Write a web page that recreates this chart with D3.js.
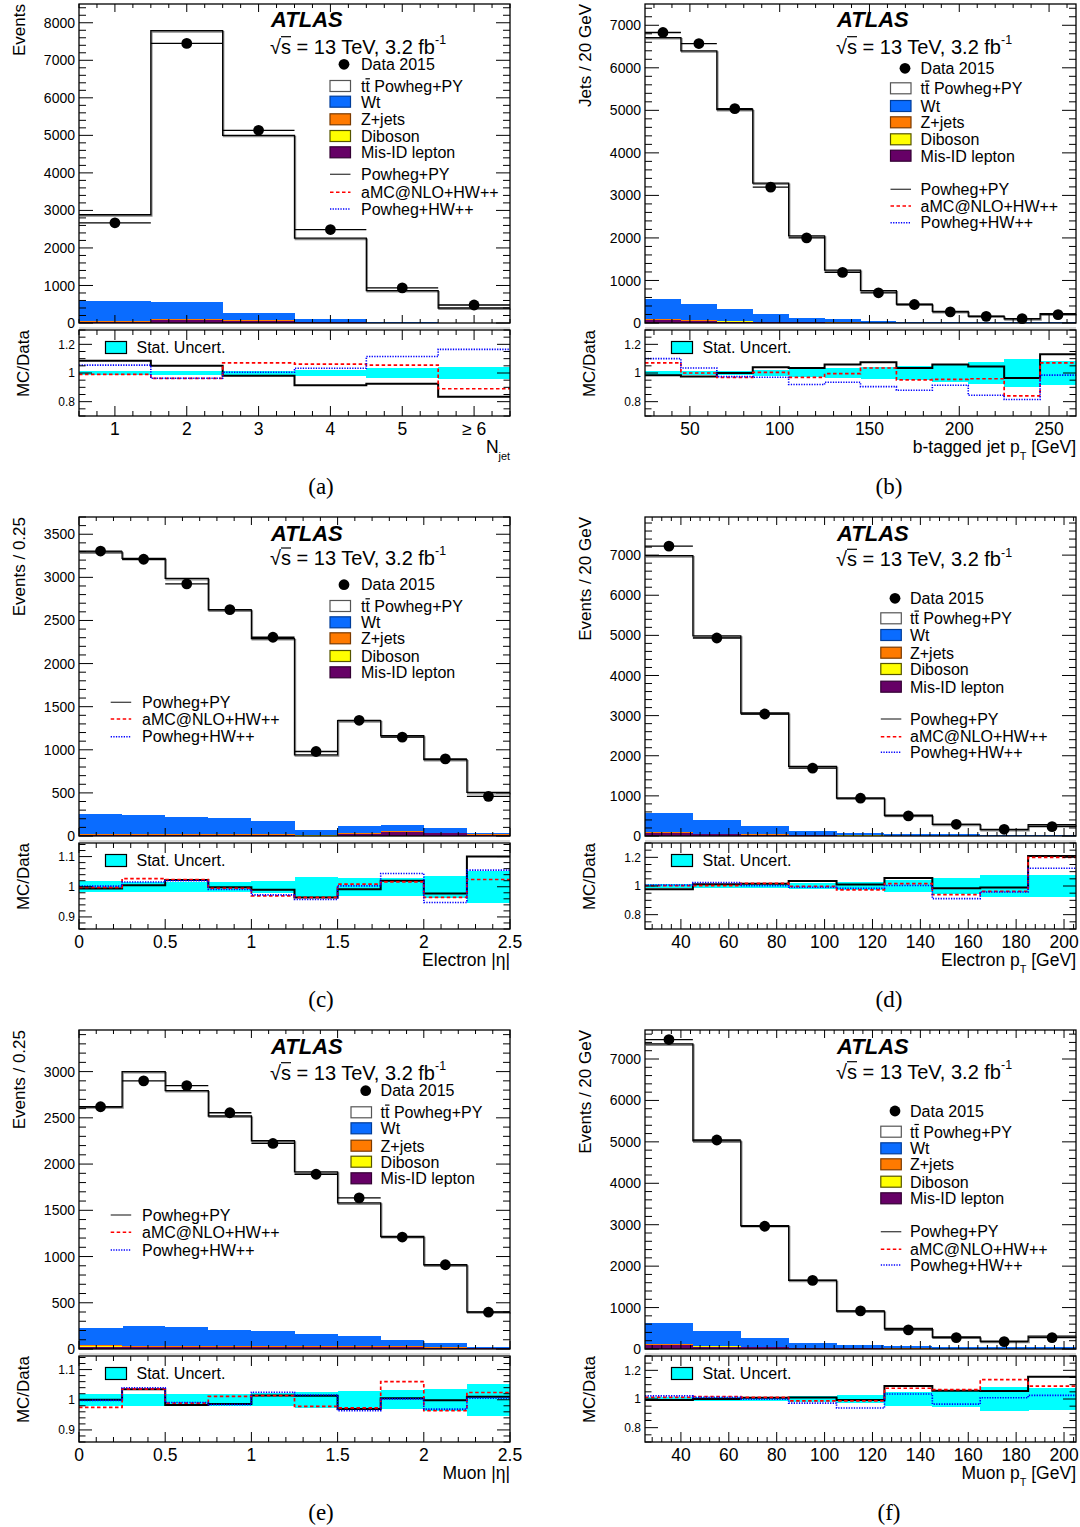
<!DOCTYPE html>
<html>
<head>
<meta charset="utf-8">
<script src="https://cdn.jsdelivr.net/npm/d3@7"></script>
<style>
  body { margin: 0; background: #fff; }
  svg { display: block; }
  text { font-family: "Liberation Sans", Arial, Helvetica, sans-serif; fill: #000; }
</style>
</head>
<body>
<div id="chart"></div>
<script>
// ---- data ----
// (a) jet multiplicity
const njetLabels = ["1", "2", "3", "4", "5", "\u2265 6"];
const njetEdges = [0.5, 1.5, 2.5, 3.5, 4.5, 5.5, 6.5];
const njetData = [2670, 7450, 5135, 2490, 935, 480];
const njetTotal = [2885, 7790, 5000, 2260, 865, 400];
const njetWt = [540, 470, 195, 80, 27, 6];
const njetZjets = [15, 10, 8, 4, 2, 1];
const njetDiboson = [5, 6, 4, 2, 1, 0.5];
const njetMisid = [20, 85, 60, 22, 6, 2];
const njetRatioPowhegPy = [1.085, 1.05, 0.98, 0.915, 0.925, 0.835];
const njetRatioAmc = [0.99, 0.963, 1.07, 1.062, 1.055, 0.89];
const njetRatioPowhegHw = [1.055, 0.963, 1.005, 1.033, 1.115, 1.165];
const njetStat = [0.016, 0.012, 0.014, 0.018, 0.033, 0.042];

// (b) b-tagged jet pT
const bjetEdges = [25, 45, 65, 85, 105, 125, 145, 165, 185, 205, 225, 245, 265];
const bjetData = [6830, 6570, 5040, 3195, 2000, 1190, 710, 435, 260, 157, 102, 197];
const bjetTotal = [6710, 6400, 5020, 3290, 2050, 1242, 760, 445, 273, 162, 98, 222];
const bjetWt = [465, 395, 290, 190, 105, 72, 38, 24, 19, 12, 11, 11];
const bjetZjets = [15, 10, 8, 6, 4, 3, 2, 2, 1, 1, 1, 1];
const bjetDiboson = [5, 4, 3, 2, 2, 1, 1, 1, 1, 1, 0.5, 0.5];
const bjetMisid = [75, 45, 35, 22, 16, 10, 6, 4, 3, 2, 2, 2];
const bjetRatioPowhegPy = [0.985, 0.975, 1.0, 1.04, 1.035, 1.06, 1.075, 1.035, 1.06, 1.045, 0.965, 1.13];
const bjetRatioAmc = [1.07, 1.0, 0.97, 1.005, 0.97, 0.995, 1.035, 0.952, 0.955, 0.96, 0.84, 1.07];
const bjetRatioPowhegHw = [1.1, 1.035, 0.975, 0.97, 0.92, 0.935, 0.905, 0.88, 0.915, 0.845, 0.815, 0.985];
const bjetStat = [0.012, 0.012, 0.015, 0.02, 0.03, 0.035, 0.042, 0.05, 0.06, 0.075, 0.095, 0.082];

// (c) electron |eta|
const etaEdges = [0, 0.25, 0.5, 0.75, 1, 1.25, 1.5, 1.75, 2, 2.25, 2.5];
const elEtaData = [3305, 3210, 2925, 2625, 2305, 980, 1342, 1147, 895, 460];
const elEtaTotal = [3295, 3220, 2988, 2622, 2290, 942, 1338, 1163, 887, 506];
const elEtaWt = [229, 221, 202, 182, 149, 52, 81, 70, 49, 18];
const elEtaZjets = [12, 12, 12, 12, 12, 8, 8, 10, 8, 5];
const elEtaDiboson = [4, 4, 4, 4, 4, 2, 3, 3, 2, 1];
const elEtaMisid = [8, 8, 8, 8, 10, 4, 25, 45, 30, 15];
const elEtaRatioPowhegPy = [0.994, 1.005, 1.022, 0.998, 0.99, 0.964, 0.992, 1.02, 0.978, 1.1];
const elEtaRatioAmc = [0.998, 1.027, 1.024, 0.995, 0.97, 0.965, 1.009, 1.016, 0.965, 1.024];
const elEtaRatioPowhegHw = [1.002, 1.016, 1.02, 0.991, 0.973, 0.958, 1.003, 1.044, 0.948, 1.055];
const elEtaStat = [0.018, 0.017, 0.017, 0.017, 0.02, 0.033, 0.03, 0.03, 0.036, 0.053];

// (d) electron pT
const lepPtEdges = [25, 45, 65, 85, 105, 125, 145, 165, 185, 205];
const elPtData = [7225, 4935, 3040, 1690, 942, 500, 292, 167, 233];
const elPtTotal = [6985, 4985, 3065, 1735, 945, 517, 290, 160, 280];
const elPtWt = [477, 333, 208, 100, 51, 47, 33, 19, 19];
const elPtZjets = [15, 10, 7, 5, 3, 2, 2, 1, 1];
const elPtDiboson = [5, 4, 3, 2, 1, 1, 1, 1, 1];
const elPtMisid = [70, 45, 32, 18, 12, 8, 6, 4, 4];
const elPtRatioPowhegPy = [0.978, 1.013, 1.015, 1.035, 1.01, 1.055, 0.985, 0.99, 1.21];
const elPtRatioAmc = [1.002, 1.002, 1.018, 0.997, 0.973, 1.016, 0.94, 0.962, 1.2];
const elPtRatioPowhegHw = [1.007, 1.024, 1.002, 0.991, 0.984, 1.004, 0.912, 0.958, 1.124];
const elPtStat = [0.015, 0.013, 0.015, 0.02, 0.028, 0.045, 0.058, 0.075, 0.075];

// (e) muon |eta|
const muEtaData = [2620, 2900, 2848, 2555, 2223, 1890, 1634, 1211, 911, 398];
const muEtaTotal = [2620, 3000, 2795, 2520, 2252, 1916, 1580, 1218, 909, 402];
const muEtaWt = [190, 216, 198, 176, 161, 134, 111, 68, 45, 16];
const muEtaZjets = [10, 10, 10, 9, 8, 7, 7, 6, 4, 2];
const muEtaDiboson = [3, 3, 3, 3, 3, 2, 2, 2, 1, 1];
const muEtaMisid = [25, 24, 24, 22, 20, 20, 25, 25, 15, 6];
const muEtaRatioPowhegPy = [1.0, 1.035, 0.983, 0.986, 1.014, 1.013, 0.969, 1.005, 0.998, 1.01];
const muEtaRatioAmc = [0.975, 1.036, 0.989, 1.011, 1.014, 0.978, 0.973, 1.06, 0.964, 1.024];
const muEtaRatioPowhegHw = [0.998, 1.04, 0.991, 0.984, 1.025, 1.016, 0.964, 1.003, 0.969, 1.005];
const muEtaStat = [0.02, 0.02, 0.019, 0.02, 0.022, 0.026, 0.028, 0.032, 0.036, 0.053];

// (f) muon pT
const muPtData = [7470, 5045, 2963, 1655, 920, 460, 275, 178, 275];
const muPtTotal = [7365, 5022, 2980, 1660, 915, 495, 290, 188, 312];
const muPtWt = [517, 361, 209, 120, 77, 60, 46, 33, 48];
const muPtZjets = [15, 10, 7, 5, 3, 2, 2, 1, 2];
const muPtDiboson = [6, 5, 4, 3, 2, 1, 1, 1, 1];
const muPtMisid = [100, 60, 38, 25, 15, 10, 8, 5, 6];
const muPtRatioPowhegPy = [0.993, 1.0, 1.009, 1.011, 0.993, 1.09, 1.058, 1.055, 1.155];
const muPtRatioAmc = [1.011, 1.016, 1.011, 0.987, 0.987, 1.075, 1.065, 1.135, 1.09];
const muPtRatioPowhegHw = [1.022, 1.011, 0.998, 0.971, 0.937, 1.035, 0.964, 1.009, 1.025];
const muPtStat = [0.012, 0.012, 0.015, 0.02, 0.025, 0.047, 0.058, 0.085, 0.077];

const stackLabels = ["t\u0074 Powheg+PY", "Wt", "Z+jets", "Diboson", "Mis-ID lepton"];
const lineLabels = ["Powheg+PY", "aMC@NLO+HW++", "Powheg+HW++"];

// ---- layout ----
const W = 1080, H = 1527;
const colLeft = [79, 645];
const rowTop = [4, 517, 1030];
const frameW = 431;
const mainH = 319;
const ratioOff = 326;
const ratioH = 86;

const colors = {
  tt: "#ffffff", wt: "#0a6cff", zjets: "#ff7a00", diboson: "#ffff00",
  misid: "#660066", stat: "#00ffff", amc: "#ff0000", hw: "#0000ff"
};

const svg = d3.select("#chart").append("svg")
  .attr("width", W).attr("height", H)
  .attr("viewBox", `0 0 ${W} ${H}`);

const ptTitle = (name) => [{ t: name + " p" }, { t: "T", sub: true }, { t: " [GeV]" }];

const panels = [
  {
    tag: "(a)", col: 0, row: 0, edges: njetEdges, xDomain: [0.5, 6.5],
    xMajor: [1, 2, 3, 4, 5, 6], xLabels: njetLabels, xMinor: 0.25,
    yMax: 8500, yMajor: 1000, yMinor: 200, yTitle: "Events",
    rDomain: [0.7, 1.3], rLabels: [0.8, 1, 1.2], rMinor: 0.05,
    xTitle: [{ t: "N" }, { t: "jet", sub: true }],
    data: njetData, total: njetTotal, wt: njetWt, zjets: njetZjets, diboson: njetDiboson, misid: njetMisid,
    rPy: njetRatioPowhegPy, rAmc: njetRatioAmc, rHw: njetRatioPowhegHw, stat: njetStat,
    leg: { box: 251, text: 282, marker: 265, atlas: 15.3, sqrt: 42.7, dataY: 60.3,
           stack: [82, 97.7, 115.3, 132, 148.3], lx: 251, ltext: 282, lines: [170.3, 188.3, 205] }
  },
  {
    tag: "(b)", col: 1, row: 0, edges: bjetEdges, xDomain: [25, 265],
    xMajor: [50, 100, 150, 200, 250], xMinor: 10,
    yMax: 7500, yMajor: 1000, yMinor: 200, yTitle: "Jets / 20 GeV",
    rDomain: [0.7, 1.3], rLabels: [0.8, 1, 1.2], rMinor: 0.05,
    xTitle: ptTitle("b-tagged jet"),
    data: bjetData, total: bjetTotal, wt: bjetWt, zjets: bjetZjets, diboson: bjetDiboson, misid: bjetMisid,
    rPy: bjetRatioPowhegPy, rAmc: bjetRatioAmc, rHw: bjetRatioPowhegHw, stat: bjetStat,
    leg: { box: 245.5, text: 275.6, marker: 260, atlas: 15.3, sqrt: 42.7, dataY: 64.3,
           stack: [84.3, 102, 118.3, 135.3, 151.7], lx: 245.5, ltext: 275.6, lines: [185.3, 202, 218.7] }
  },
  {
    tag: "(c)", col: 0, row: 1, edges: etaEdges, xDomain: [0, 2.5],
    xMajor: [0, 0.5, 1, 1.5, 2, 2.5], xMinor: 0.1,
    yMax: 3700, yMajor: 500, yMinor: 100, yTitle: "Events / 0.25",
    rDomain: [0.86, 1.145], rLabels: [0.9, 1, 1.1], rMinor: 0.02,
    xTitle: [{ t: "Electron |\u03b7|" }],
    data: elEtaData, total: elEtaTotal, wt: elEtaWt, zjets: elEtaZjets, diboson: elEtaDiboson, misid: elEtaMisid,
    rPy: elEtaRatioPowhegPy, rAmc: elEtaRatioAmc, rHw: elEtaRatioPowhegHw, stat: elEtaStat,
    leg: { box: 251, text: 282, marker: 265, atlas: 15.7, sqrt: 41, dataY: 67.7,
           stack: [89, 105.3, 121.3, 139, 155.3], lx: 31.7, ltext: 63, lines: [185.3, 202, 219.7] }
  },
  {
    tag: "(d)", col: 1, row: 1, edges: lepPtEdges, xDomain: [25, 205],
    xMajor: [40, 60, 80, 100, 120, 140, 160, 180, 200], xMinor: 4,
    yMax: 7950, yMajor: 1000, yMinor: 200, yTitle: "Events / 20 GeV",
    rDomain: [0.7, 1.3], rLabels: [0.8, 1, 1.2], rMinor: 0.05,
    xTitle: ptTitle("Electron"),
    data: elPtData, total: elPtTotal, wt: elPtWt, zjets: elPtZjets, diboson: elPtDiboson, misid: elPtMisid,
    rPy: elPtRatioPowhegPy, rAmc: elPtRatioAmc, rHw: elPtRatioPowhegHw, stat: elPtStat,
    leg: { box: 235.8, text: 265, marker: 250, atlas: 15.7, sqrt: 42.3, dataY: 81.3,
           stack: [101.3, 118, 135.7, 152, 169.7], lx: 235.8, ltext: 265, lines: [202, 219.7, 235.3] }
  },
  {
    tag: "(e)", col: 0, row: 2, edges: etaEdges, xDomain: [0, 2.5],
    xMajor: [0, 0.5, 1, 1.5, 2, 2.5], xMinor: 0.1,
    yMax: 3450, yMajor: 500, yMinor: 100, yTitle: "Events / 0.25",
    rDomain: [0.86, 1.145], rLabels: [0.9, 1, 1.1], rMinor: 0.02,
    xTitle: [{ t: "Muon |\u03b7|" }],
    data: muEtaData, total: muEtaTotal, wt: muEtaWt, zjets: muEtaZjets, diboson: muEtaDiboson, misid: muEtaMisid,
    rPy: muEtaRatioPowhegPy, rAmc: muEtaRatioAmc, rHw: muEtaRatioPowhegHw, stat: muEtaStat,
    leg: { box: 272, text: 301.6, marker: 286.7, atlas: 15.7, sqrt: 42.7, dataY: 60.7,
           stack: [82.3, 98.3, 115.7, 131.7, 148.3], lx: 31.7, ltext: 63, lines: [185, 202.3, 220] }
  },
  {
    tag: "(f)", col: 1, row: 2, edges: lepPtEdges, xDomain: [25, 205],
    xMajor: [40, 60, 80, 100, 120, 140, 160, 180, 200], xMinor: 4,
    yMax: 7700, yMajor: 1000, yMinor: 200, yTitle: "Events / 20 GeV",
    rDomain: [0.7, 1.3], rLabels: [0.8, 1, 1.2], rMinor: 0.05,
    xTitle: ptTitle("Muon"),
    data: muPtData, total: muPtTotal, wt: muPtWt, zjets: muPtZjets, diboson: muPtDiboson, misid: muPtMisid,
    rPy: muPtRatioPowhegPy, rAmc: muPtRatioAmc, rHw: muPtRatioPowhegHw, stat: muPtStat,
    leg: { box: 235.8, text: 265, marker: 250, atlas: 15.7, sqrt: 41.7, dataY: 81,
           stack: [101.7, 118.3, 134.3, 151.7, 168.3], lx: 235.8, ltext: 265, lines: [201.7, 219.3, 235] }
  }
];

function stepsOf(lo, hi, step) {
  const out = [];
  const start = Math.ceil(lo / step - 1e-6);
  for (let k = start; k * step <= hi + 1e-6; k++) out.push(+(k * step).toFixed(6));
  return out;
}

// text with sub/superscript pieces
function richText(g, x, y, parts, size, anchor) {
  const t = g.append("text").attr("x", x).attr("y", y)
    .attr("font-size", size).attr("text-anchor", anchor || "start");
  let shift = 0;
  parts.forEach(p => {
    const s = p.sub ? 0.42 : p.sup ? -0.48 : 0;
    t.append("tspan")
      .attr("dy", (s - shift) * size)
      .attr("font-size", (p.sub || p.sup) ? size * 0.62 : size)
      .text(p.t);
    shift = s;
  });
  return t;
}

// overline over characters [from, from+count) of a start-anchored text
function overline(g, textSel, x, baseline, from, count, rise) {
  const node = textSel.node();
  const a = node.getSubStringLength(0, from);
  const b = node.getSubStringLength(from, count);
  g.append("line")
    .attr("x1", x + a).attr("x2", x + a + b)
    .attr("y1", baseline - rise).attr("y2", baseline - rise)
    .attr("stroke", "#000").attr("stroke-width", 1.2);
}

function drawTicks(g, w, h, xs, ys, xMaj, xMin, yMaj, yMin, lenX, lenY) {
  const segs = [];
  xMaj.forEach(v => segs.push([xs(v), h, xs(v), h - lenX[0]], [xs(v), 0, xs(v), lenX[0]]));
  xMin.forEach(v => segs.push([xs(v), h, xs(v), h - lenX[1]], [xs(v), 0, xs(v), lenX[1]]));
  yMaj.forEach(v => segs.push([0, ys(v), lenY[0], ys(v)], [w, ys(v), w - lenY[0], ys(v)]));
  yMin.forEach(v => segs.push([0, ys(v), lenY[1], ys(v)], [w, ys(v), w - lenY[1], ys(v)]));
  g.append("g").selectAll("line").data(segs).join("line")
    .attr("x1", d => d[0]).attr("y1", d => d[1])
    .attr("x2", d => d[2]).attr("y2", d => d[3])
    .attr("stroke", "#000").attr("stroke-width", 1);
}

function drawPanel(p) {
  const gx = colLeft[p.col], gy = rowTop[p.row];
  const g = svg.append("g").attr("transform", `translate(${gx},${gy})`);
  const n = p.data.length;
  const x = d3.scaleLinear().domain(p.xDomain).range([0, frameW]);
  const y = d3.scaleLinear().domain([0, p.yMax]).range([mainH, 0]);
  const centers = d3.range(n).map(i => (p.edges[i] + p.edges[i + 1]) / 2);

  // ---- main pad ----
  const table = d3.range(n).map(i => ({
    misid: p.misid[i], diboson: p.diboson[i], zjets: p.zjets[i], wt: p.wt[i],
    tt: p.total[i] - p.misid[i] - p.diboson[i] - p.zjets[i] - p.wt[i]
  }));
  const keys = ["misid", "diboson", "zjets", "wt", "tt"];
  const series = d3.stack().keys(keys)(table);

  g.append("g").selectAll("g").data(series).join("g")
    .attr("fill", s => colors[s.key])
    .selectAll("rect").data(s => s).join("rect")
    .attr("x", (d, i) => x(p.edges[i]))
    .attr("width", (d, i) => x(p.edges[i + 1]) - x(p.edges[i]) + 0.4)
    .attr("y", d => y(d[1]))
    .attr("height", d => Math.max(0, y(d[0]) - y(d[1])))
    .attr("shape-rendering", "crispEdges");

  const stepPts = arr => arr.map((v, i) => [p.edges[i], v]).concat([[p.edges[n], arr[n - 1]]]);
  const mainLine = d3.line().x(d => x(d[0])).y(d => y(d[1])).curve(d3.curveStepAfter);

  g.append("path").attr("d", mainLine(stepPts(p.total)))
    .attr("transform", "translate(0.9,1.2)")
    .attr("fill", "none").attr("stroke", "#8a8a8a").attr("stroke-width", 1.6);
  g.append("path").attr("d", mainLine(stepPts(p.total)))
    .attr("fill", "none").attr("stroke", "#000").attr("stroke-width", 1.3);

  // data: x error bars across the bin and markers
  g.append("g").selectAll("line").data(p.data).join("line")
    .attr("x1", (d, i) => x(p.edges[i])).attr("x2", (d, i) => x(p.edges[i + 1]))
    .attr("y1", d => y(d)).attr("y2", d => y(d))
    .attr("stroke", "#000").attr("stroke-width", 1.3);
  g.append("g").selectAll("circle").data(p.data).join("circle")
    .attr("cx", (d, i) => x(centers[i])).attr("cy", d => y(d)).attr("r", 5.4)
    .attr("fill", "#000");

  const xMinorTicks = stepsOf(p.xDomain[0], p.xDomain[1], p.xMinor)
    .filter(v => !p.xMajor.some(m => Math.abs(m - v) < 1e-6));
  const yMajorTicks = stepsOf(0, p.yMax, p.yMajor);
  const yMinorTicks = stepsOf(0, p.yMax, p.yMinor).filter(v => v % p.yMajor !== 0);
  drawTicks(g, frameW, mainH, x, y, p.xMajor, xMinorTicks, yMajorTicks, yMinorTicks, [8, 4], [14, 7]);

  g.append("g").selectAll("text").data(yMajorTicks).join("text")
    .attr("x", -4).attr("y", d => y(d)).attr("dy", "0.36em")
    .attr("text-anchor", "end").attr("font-size", 14)
    .text(d3.format("d"));

  g.append("rect").attr("width", frameW).attr("height", mainH)
    .attr("fill", "none").attr("stroke", "#000").attr("stroke-width", 1.3);
  g.append("line").attr("x1", 0).attr("x2", frameW)
    .attr("y1", mainH + 5).attr("y2", mainH + 5)
    .attr("stroke", "#b0b0b0").attr("stroke-width", 1);

  g.append("text")
    .attr("transform", `translate(-60,0) rotate(-90)`)
    .attr("dy", "0.36em").attr("text-anchor", "end").attr("font-size", 17)
    .text(p.yTitle);

  // ---- labels and legend ----
  const L = p.leg;
  g.append("text").attr("x", 192).attr("y", L.atlas + 8)
    .attr("font-size", 22).attr("font-weight", "bold").attr("font-style", "italic")
    .text("ATLAS");
  const sb = L.sqrt + 7;
  const sq = richText(g, 191, sb, [{ t: "\u221As = 13 TeV, 3.2 fb" }, { t: "-1", sup: true }], 20);
  overline(g, sq, 191, sb, 1, 1, 17);

  g.append("circle").attr("cx", L.marker).attr("cy", L.dataY).attr("r", 5.4).attr("fill", "#000");
  g.append("text").attr("x", L.text).attr("y", L.dataY).attr("dy", "0.36em")
    .attr("font-size", 16).text("Data 2015");

  const stackFills = [colors.tt, colors.wt, colors.zjets, colors.diboson, colors.misid];
  const stackEdge = ["#555", "#003d99", "#7a3a00", "#555500", "#330033"];
  L.stack.forEach((yy, i) => {
    g.append("rect").attr("x", L.box).attr("y", yy - 5.5).attr("width", 20.5).attr("height", 11)
      .attr("fill", stackFills[i]).attr("stroke", stackEdge[i]).attr("stroke-width", 1.2);
    const t = g.append("text").attr("x", L.text).attr("y", yy + 5.8)
      .attr("font-size", 16).text(stackLabels[i]);
    if (i === 0) overline(g, t, L.text, yy + 5.8, 1, 1, 13);
  });

  const lineStyles = [
    { stroke: "#444", dash: null, w: 1.3 },
    { stroke: colors.amc, dash: "3.5,2.5", w: 1.5 },
    { stroke: colors.hw, dash: "1.3,1.3", w: 1.5 }
  ];
  L.lines.forEach((yy, i) => {
    g.append("line").attr("x1", L.lx).attr("x2", L.lx + 20.5).attr("y1", yy).attr("y2", yy)
      .attr("stroke", lineStyles[i].stroke).attr("stroke-width", lineStyles[i].w)
      .attr("stroke-dasharray", lineStyles[i].dash);
    g.append("text").attr("x", L.ltext).attr("y", yy).attr("dy", "0.36em")
      .attr("font-size", 16).text(lineLabels[i]);
  });

  // ---- ratio pad ----
  const r = g.append("g").attr("transform", `translate(0,${ratioOff})`);
  const yr = d3.scaleLinear().domain(p.rDomain).range([ratioH, 0]);
  const clipId = "clip" + p.tag.replace(/\W/g, "");
  r.append("clipPath").attr("id", clipId).append("rect")
    .attr("width", frameW).attr("height", ratioH);
  const rc = r.append("g").attr("clip-path", `url(#${clipId})`);

  rc.append("g").selectAll("rect").data(p.stat).join("rect")
    .attr("x", (d, i) => x(p.edges[i]))
    .attr("width", (d, i) => x(p.edges[i + 1]) - x(p.edges[i]) + 0.4)
    .attr("y", d => yr(1 + d)).attr("height", d => yr(1 - d) - yr(1 + d))
    .attr("fill", colors.stat).attr("shape-rendering", "crispEdges");

  const rLine = d3.line().x(d => x(d[0])).y(d => yr(d[1])).curve(d3.curveStepAfter);
  rc.append("path").attr("d", rLine(stepPts(p.rPy)))
    .attr("fill", "none").attr("stroke", "#000").attr("stroke-width", 2);
  rc.append("path").attr("d", rLine(stepPts(p.rAmc)))
    .attr("fill", "none").attr("stroke", colors.amc).attr("stroke-width", 1.7)
    .attr("stroke-dasharray", "3.5,2.5");
  rc.append("path").attr("d", rLine(stepPts(p.rHw)))
    .attr("fill", "none").attr("stroke", colors.hw).attr("stroke-width", 1.6)
    .attr("stroke-dasharray", "1.3,1.3");

  const rMinorTicks = stepsOf(p.rDomain[0], p.rDomain[1], p.rMinor)
    .filter(v => !p.rLabels.some(m => Math.abs(m - v) < 1e-6));
  drawTicks(r, frameW, ratioH, x, yr, p.xMajor, xMinorTicks, p.rLabels, rMinorTicks, [10, 5], [13, 6.5]);

  r.append("g").selectAll("text").data(p.rLabels).join("text")
    .attr("x", -4).attr("y", d => yr(d)).attr("dy", "0.36em")
    .attr("text-anchor", "end").attr("font-size", 12)
    .text(d => String(+d.toFixed(2)));

  r.append("g").selectAll("text").data(p.xMajor).join("text")
    .attr("x", d => x(d)).attr("y", ratioH + 13).attr("dy", "0.36em")
    .attr("text-anchor", "middle").attr("font-size", 17.5)
    .text((d, i) => p.xLabels ? p.xLabels[i] : String(d));

  r.append("rect").attr("width", frameW).attr("height", ratioH)
    .attr("fill", "none").attr("stroke", "#000").attr("stroke-width", 1.3);

  r.append("rect").attr("x", 26.5).attr("y", 17.5 - 6).attr("width", 21).attr("height", 12)
    .attr("fill", colors.stat).attr("stroke", "#000").attr("stroke-width", 1.2);
  r.append("text").attr("x", 57.5).attr("y", 17.5).attr("dy", "0.36em")
    .attr("font-size", 16).text("Stat. Uncert.");

  r.append("text")
    .attr("transform", `translate(-56.5,0) rotate(-90)`)
    .attr("dy", "0.36em").attr("text-anchor", "end").attr("font-size", 17)
    .text("MC/Data");

  richText(g, frameW, ratioOff + ratioH + 37, p.xTitle, 17.5, "end");

  // sub-figure tag
  g.append("text")
    .attr("x", p.col === 0 ? 321 - gx : 889 - gx).attr("y", 490)
    .attr("text-anchor", "middle").attr("font-size", 23)
    .style("font-family", "'Liberation Serif', 'Times New Roman', serif")
    .text(p.tag);
}

panels.forEach(drawPanel);
</script>
</body>
</html>
